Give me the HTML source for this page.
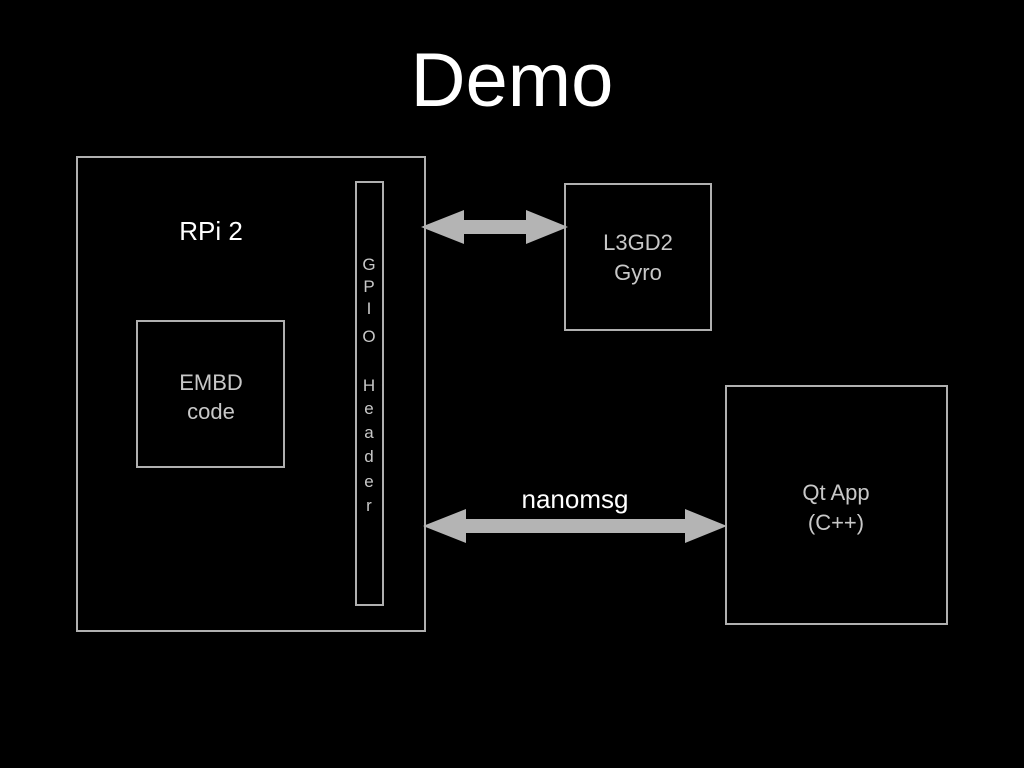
<!DOCTYPE html>
<html><head><style>
body{margin:0;background:#000;}
text{font-family:"Liberation Sans",Arial,sans-serif;}
</style></head><body>
<svg width="1024" height="768" xmlns="http://www.w3.org/2000/svg" style="display:block">
<rect width="1024" height="768" fill="#000"/>
<text x="512" y="106" text-anchor="middle" font-size="76" fill="#fff">Demo</text>
<g fill="none" stroke="#b0b0b0" stroke-width="2">
<rect x="77" y="157" width="348" height="474"/>
<rect x="356" y="182" width="27" height="423"/>
<rect x="137" y="321" width="147" height="146"/>
<rect x="565" y="184" width="146" height="146"/>
<rect x="726" y="386" width="221" height="238"/>
</g>
<g fill="#c8c8c8" text-anchor="middle">
<text x="211" y="240" font-size="26" fill="#fff">RPi 2</text>
<text x="211" y="390" font-size="22">EMBD</text>
<text x="211" y="419" font-size="22">code</text>
<text x="638" y="250" font-size="22">L3GD2</text>
<text x="638" y="280" font-size="22">Gyro</text>
<text x="836" y="500" font-size="22">Qt App</text>
<text x="836" y="530" font-size="22">(C++)</text>
<text x="575" y="508" font-size="26" fill="#fff">nanomsg</text>
<g font-size="17">
<text x="369" y="270">G</text>
<text x="369" y="292">P</text>
<text x="369" y="314">I</text>
<text x="369" y="342">O</text>
<text x="369" y="391">H</text>
<text x="369" y="414">e</text>
<text x="369" y="438">a</text>
<text x="369" y="462">d</text>
<text x="369" y="487">e</text>
<text x="369" y="511">r</text>
</g>
</g>
<polygon fill="#b4b4b4" points="421,227 464,210 464,220 526,220 526,210 568,227 526,244 526,234 464,234 464,244"/>
<polygon fill="#b4b4b4" points="423,526 466,509 466,519 685,519 685,509 727,526 685,543 685,533 466,533 466,543"/>
</svg>
</body></html>
